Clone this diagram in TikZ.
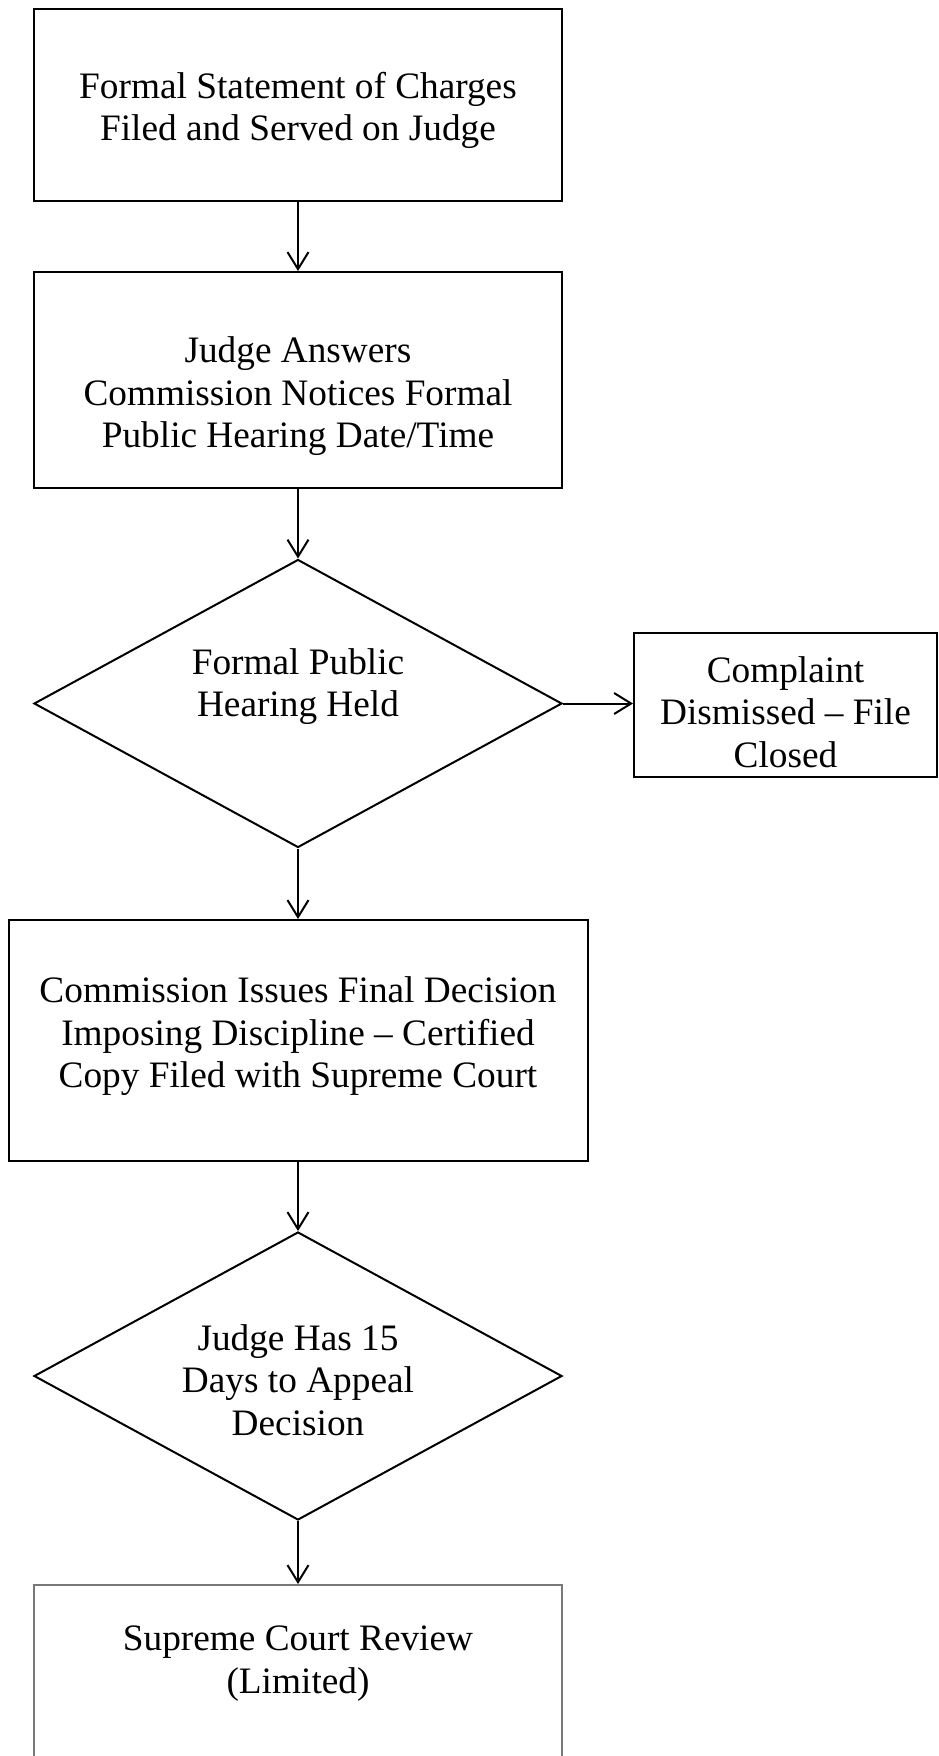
\documentclass[tikz,border=0pt]{standalone}
\usepackage{fontspec}
\setmainfont{Liberation Serif}
\usetikzlibrary{shapes.geometric,arrows.meta}
\definecolor{edgegray}{RGB}{120,120,120}
\begin{document}
\begin{tikzpicture}[x=1pt,y=-1pt,
  frame/.style={draw, line width=2pt, rectangle, inner sep=0pt},
  rhomb/.style={draw, line width=2pt, diamond, inner sep=0pt,
                minimum width=528pt, minimum height=288pt},
  lbl/.style={align=center, inner sep=0pt,
              font=\fontsize{37.3}{42.5}\selectfont},
  flow/.style={line width=2pt, -{Straight Barb[length=17pt,width=21pt]}}]
\useasboundingbox (0,0) rectangle (938,1756);
\clip (0,0) rectangle (938,1756);

% outlines of the steps
\node[frame, minimum width=528pt, minimum height=192pt] (b1) at (298,105) {};
\node[frame, minimum width=528pt, minimum height=216pt] (b2) at (298,380) {};
\node[rhomb] (d1) at (298,703.5) {};
\node[frame, minimum width=303pt, minimum height=144pt] (side) at (785.5,704.5) {};
\node[frame, minimum width=579pt, minimum height=241pt] (b3) at (298.5,1040.5) {};
\node[rhomb] (d2) at (298,1376) {};
\node[frame, draw=edgegray, anchor=north, minimum width=528pt, minimum height=300pt] (b4) at (298,1584) {};

% texts
\node[lbl] (t1) at (298,110.5) {Formal Statement of Charges\\Filed and Served on Judge};
\node[lbl] (t2) at (298,396.5) {Judge Answers\\Commission Notices Formal\\Public Hearing Date/Time};
\node[lbl] (t3) at (298,686.5) {Formal Public\\Hearing Held};
\node[lbl] (t4) at (785.5,712) {Complaint\\Dismissed – File\\Closed};
\node[lbl] (t5) at (298,1036.5) {Commission Issues Final Decision\\Imposing Discipline – Certified\\Copy Filed with Supreme Court};
\node[lbl] (t6) at (298,1380) {Judge Has 15\\Days to Appeal\\Decision};
\node[lbl] (t7) at (298,1663.5) {Supreme Court Review\\(Limited)};

% connectors
\draw[flow] (b1.south) -- (b2.north);
\draw[flow] (b2.south) -- (d1.north);
\draw[flow] (d1.east) -- (d1.east -| side.west);
\draw[flow] (d1.south) -- (d1.south |- b3.north);
\draw[flow] (b3.south -| d2.north) -- (d2.north);
\draw[flow] (d2.south) -- (b4.north);
\end{tikzpicture}
\end{document}
